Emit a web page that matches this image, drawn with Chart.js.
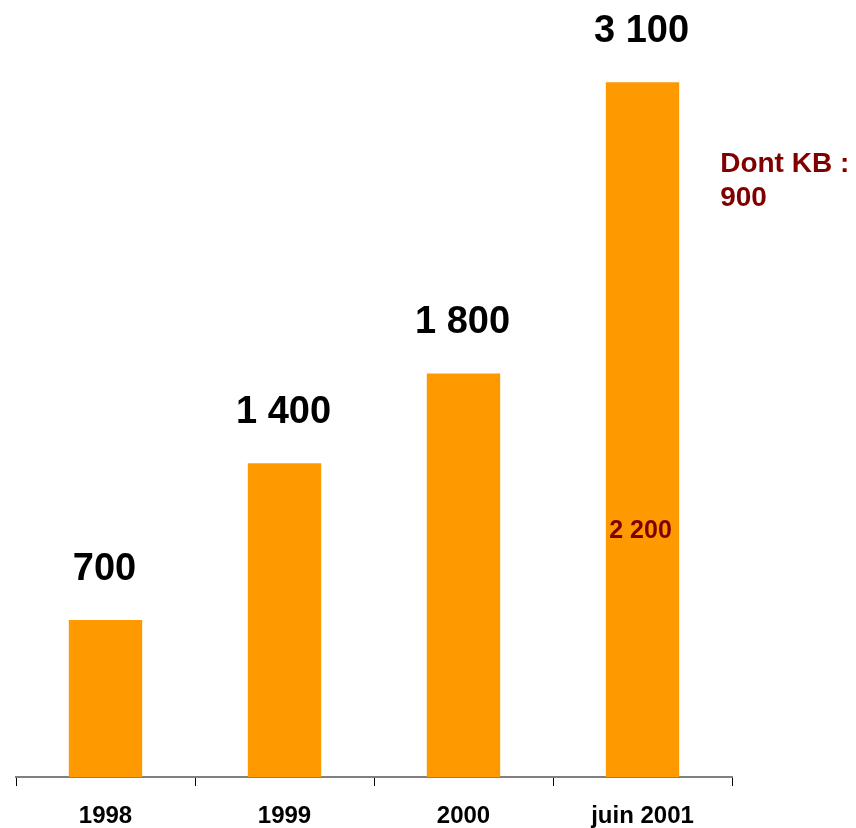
<!DOCTYPE html>
<html>
<head>
<meta charset="utf-8">
<script src="https://cdn.jsdelivr.net/npm/chart.js@4"></script>
<style>
  html, body { margin: 0; padding: 0; background: #fff; }
  #wrap { width: 856px; height: 828px; }
</style>
</head>
<body>
<div id="wrap"><canvas id="myChart" width="856" height="828"></canvas></div>
<script>
// data
const years = ['1998', '1999', '2000', 'juin 2001'];
const totals = [700, 1400, 1800, 3100];
const kbPart = [0, 0, 0, 900];      // "Dont KB" share of the last bar
const yMax = 3400;

const orange = '#FF9900';
const darkRed = '#800000';
const font = '"Liberation Sans", Arial, sans-serif';

const fmt = v => String(v).replace(/\B(?=(\d{3})+(?!\d))/g, ' ');

// labels above bars + the KB annotation
const labelsPlugin = {
  id: 'labels',
  afterDatasetsDraw(chart) {
    const ctx = chart.ctx;
    const y = chart.scales.y;
    const meta = chart.getDatasetMeta(0);
    ctx.save();
    ctx.textAlign = 'center';
    ctx.textBaseline = 'middle';
    meta.data.forEach((bar, i) => {
      ctx.fillStyle = '#000';
      ctx.font = 'bold 38px ' + font;
      ctx.fillText(fmt(totals[i]), bar.x - 1, bar.y - 51);

      if (kbPart[i] > 0) {
        const rest = totals[i] - kbPart[i];
        ctx.fillStyle = darkRed;
        ctx.font = 'bold 25px ' + font;
        ctx.fillText(fmt(rest), bar.x - 2, y.getPixelForValue(rest / 2) + 1);

        ctx.font = 'bold 28px ' + font;
        ctx.textAlign = 'left';
        const mid = y.getPixelForValue(rest + kbPart[i] / 2) - 2;
        const tx = bar.x + bar.width / 2 + 41;
        ctx.fillText('Dont KB :', tx, mid - 17);
        ctx.fillText(fmt(kbPart[i]), tx, mid + 17);
        ctx.textAlign = 'center';
      }
    });
    ctx.restore();
  }
};

new Chart(document.getElementById('myChart'), {
  type: 'bar',
  data: {
    labels: years,
    datasets: [{
      data: totals,
      backgroundColor: orange,
      borderWidth: 0,
      barPercentage: 0.41,
      categoryPercentage: 1
    }]
  },
  options: {
    responsive: false,
    animation: false,
    layout: { padding: { left: 16, right: 124, top: 15, bottom: 0 } },
    plugins: { legend: { display: false }, tooltip: { enabled: false } },
    scales: {
      x: {
        afterFit: s => { s.height = 51; },
        border: { display: true, color: '#808080', width: 2 },
        grid: {
          display: true,
          offset: true,
          drawOnChartArea: false,
          drawTicks: true,
          tickLength: 9,
          color: '#000',
          lineWidth: 1
        },
        ticks: {
          color: '#000',
          padding: 16,
          font: { family: font, size: 24, weight: 'bold' }
        }
      },
      y: {
        display: false,
        min: 0,
        max: yMax
      }
    }
  },
  plugins: [labelsPlugin]
});
</script>
</body>
</html>
